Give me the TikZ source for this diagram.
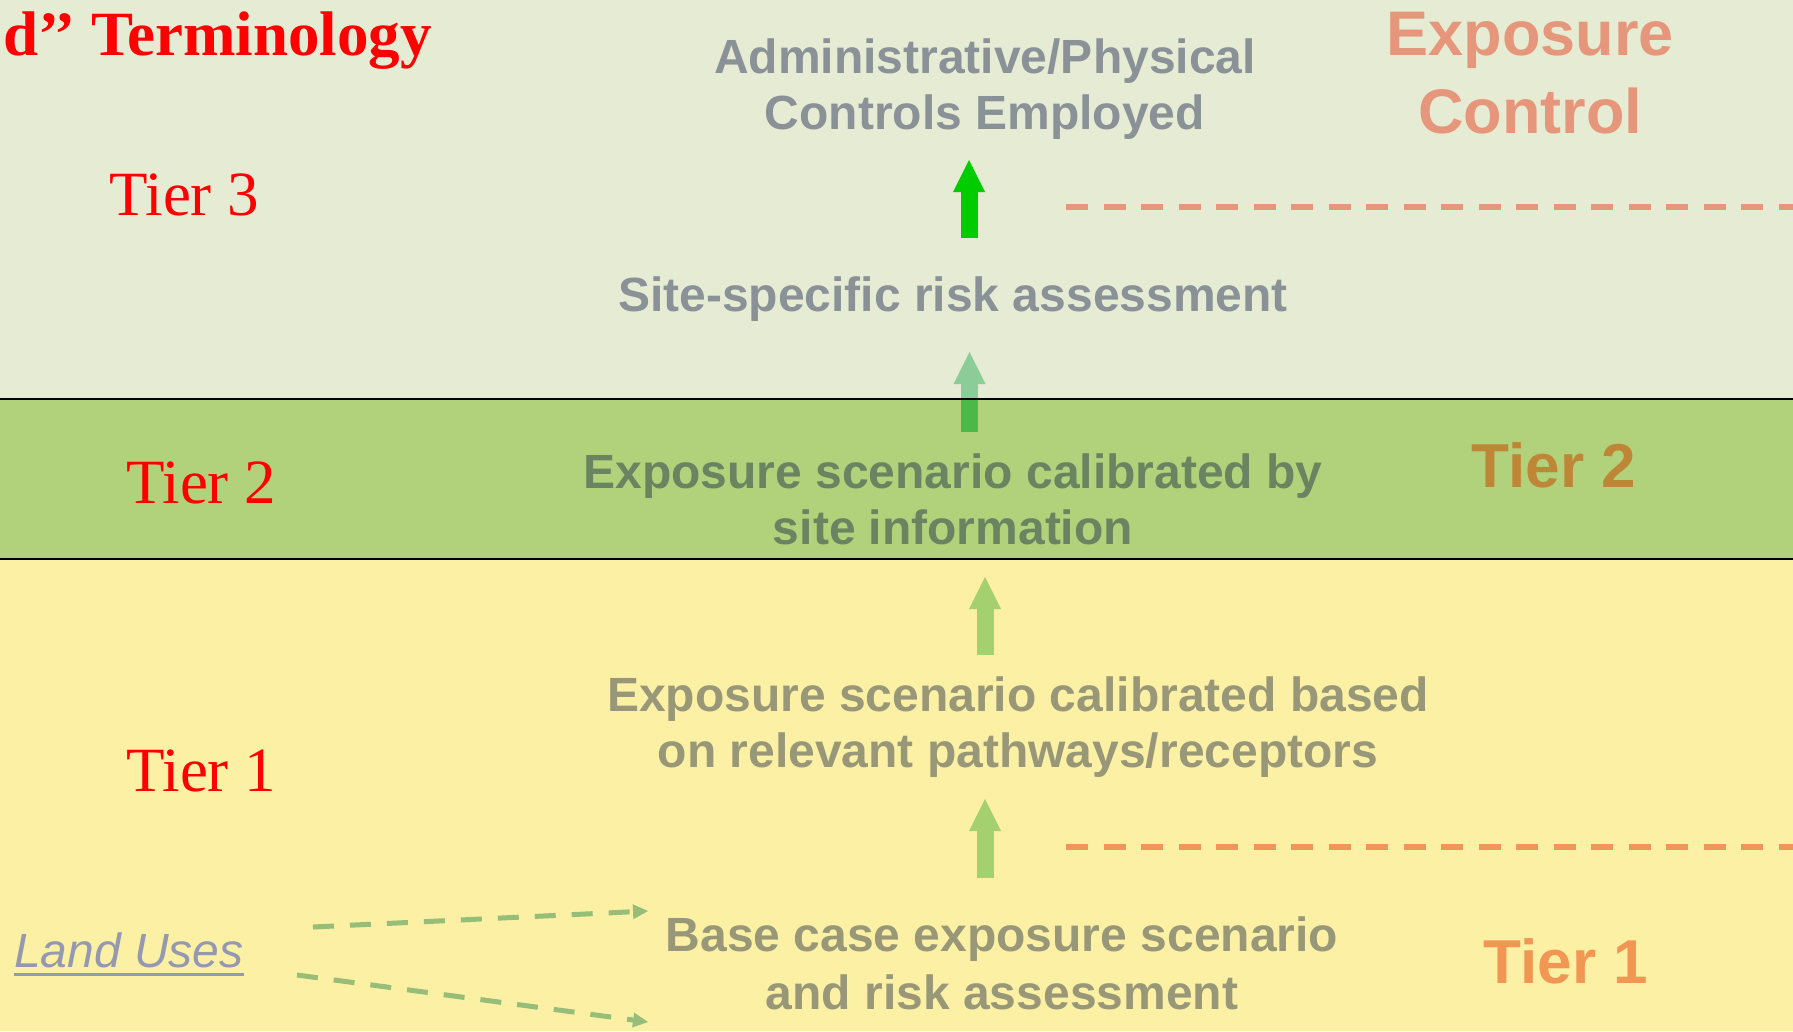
\documentclass[tikz,border=0pt]{standalone}
\usepackage{fontspec}
\setmainfont{Liberation Serif}
\newfontfamily\arial{Liberation Sans}
\usetikzlibrary{arrows.meta}
\definecolor{bgtop}{HTML}{E6ECD4}
\definecolor{bggreen}{HTML}{B1D27A}
\definecolor{bgyellow}{HTML}{FBF0A4}
\definecolor{tierred}{HTML}{FF0000}
\definecolor{graytxt}{HTML}{8A9298}
\definecolor{dgtxt}{HTML}{6A8462}
\definecolor{olivetxt}{HTML}{989878}
\definecolor{expoc}{HTML}{E6967A}
\definecolor{tiertwoc}{HTML}{BE8636}
\definecolor{tieronec}{HTML}{F29654}
\definecolor{arrowgreen}{HTML}{00CC00}
\definecolor{atwolight}{HTML}{8CCC98}
\definecolor{atwodark}{HTML}{4CB848}
\definecolor{athree}{HTML}{A4D070}
\definecolor{dashtop}{HTML}{E6967A}
\definecolor{dashbot}{HTML}{F0965A}
\definecolor{dgreen}{HTML}{96BE78}
\definecolor{landc}{HTML}{9498B0}
\newcommand\myuline[1]{\setbox0\hbox{#1}\rlap{\vrule width\wd0 height -6pt depth 9pt}\box0}
\tikzset{
  sanstxt/.style={font=\arial\bfseries\fontsize{48}{56}\selectfont, align=center, anchor=base, inner sep=0pt},
  tierleft/.style={font=\fontsize{63}{70}\selectfont, text=tierred, anchor=base west, inner sep=0pt},
  tierright/.style={font=\arial\bfseries\fontsize{62}{70}\selectfont, anchor=base, inner sep=0pt},
  blockarrow/.style={line width=17pt, -{Triangle[width=32pt,length=32pt,line width=0pt]}},
  dashline/.style={line width=5.5pt, dash pattern=on 22pt off 15.5pt},
  greendash/.style={line width=5pt, dash pattern=on 21pt off 16pt, color=dgreen, -{Triangle[width=15pt,length=15pt,line width=0pt]}}
}
\begin{document}
\begin{tikzpicture}[x=1pt,y=-1pt]
\useasboundingbox (0,0) rectangle (1793,1031);
\clip (0,0) rectangle (1793,1031);
% bands
\fill[bgtop] (0,0) rectangle (1793,399);
\fill[bggreen] (0,399) rectangle (1793,559);
\fill[bgyellow] (0,559) rectangle (1793,1031);

% title and left tier labels
\node[font=\bfseries\fontsize{63}{70}\selectfont, text=tierred, anchor=base east, inner sep=0pt] (title) at (432,55) {d’’ Terminology};
\node[tierleft] (t3) at (109,215) {Tier 3};
\node[tierleft] (t2) at (126,503) {Tier 2};
\node[tierleft] (t1) at (126,791) {Tier 1};

% right labels (base anchor = last line's baseline)
\node[tierright, text=expoc, font=\arial\bfseries\fontsize{63}{78}\selectfont, align=center] (expo) at (1530,133) {Exposure\\Control};
\node[tierright, text=tiertwoc] (rt2) at (1554,487) {Tier 2};
\node[tierright, text=tieronec] (rt1) at (1566,983) {Tier 1};

% central texts
\node[sanstxt, text=graytxt] (admin) at (985,129) {Administrative/Physical\\Controls Employed};
\node[sanstxt, text=graytxt] (site) at (953,311) {Site-specific risk assessment};
\node[sanstxt, text=dgtxt] (calib) at (953,544) {Exposure scenario calibrated by\\site information};
\node[sanstxt, text=olivetxt] (based) at (1018,767) {Exposure scenario calibrated based\\on relevant pathways/receptors};
\node[sanstxt, text=olivetxt, font=\arial\bfseries\fontsize{48}{58}\selectfont] (base) at (1002,1009) {Base case exposure scenario\\and risk assessment};
\node[font=\arial\itshape\fontsize{48}{56}\selectfont, text=landc, anchor=base west, inner sep=0pt] (land) at (14,967) {\myuline{Land Uses}};

% block arrows
\coordinate (a1s) at (969,238);
\coordinate (a1e) at (969,160);
\draw[blockarrow, arrowgreen] (a1s) -- (a1e);
\coordinate (a2s) at (969.5,432);
\coordinate (a2m) at (969.5,399);
\coordinate (a2e) at (969.5,352);
\draw[blockarrow, atwolight] (a2s) -- (a2e);
\draw[line width=17pt, atwodark] (a2s) -- (a2m);
\coordinate (a3s) at (985,655);
\coordinate (a3e) at (985,577);
\draw[blockarrow, athree] (a3s) -- (a3e);
\coordinate (a4s) at (985,878);
\coordinate (a4e) at (985,799);
\draw[blockarrow, athree] (a4s) -- (a4e);

% band borders
\draw[line width=2pt, black] (0,399) -- (1793,399);
\draw[line width=2pt, black] (0,559) -- (1793,559);

% dashed separators
\coordinate (d1s) at (1066,207);
\coordinate (d1e) at (1793,207);
\draw[dashline, dashtop] (d1s) -- (d1e);
\coordinate (d2s) at (1066,847);
\coordinate (d2e) at (1793,847);
\draw[dashline, dashbot] (d2s) -- (d2e);

% land use arrows
\coordinate (l1s) at (313,927);
\coordinate (l1e) at (648,911);
\draw[greendash] (l1s) -- (l1e);
\coordinate (l2s) at (297,975);
\coordinate (l2e) at (648,1022);
\draw[greendash] (l2s) -- (l2e);
\end{tikzpicture}
\end{document}
